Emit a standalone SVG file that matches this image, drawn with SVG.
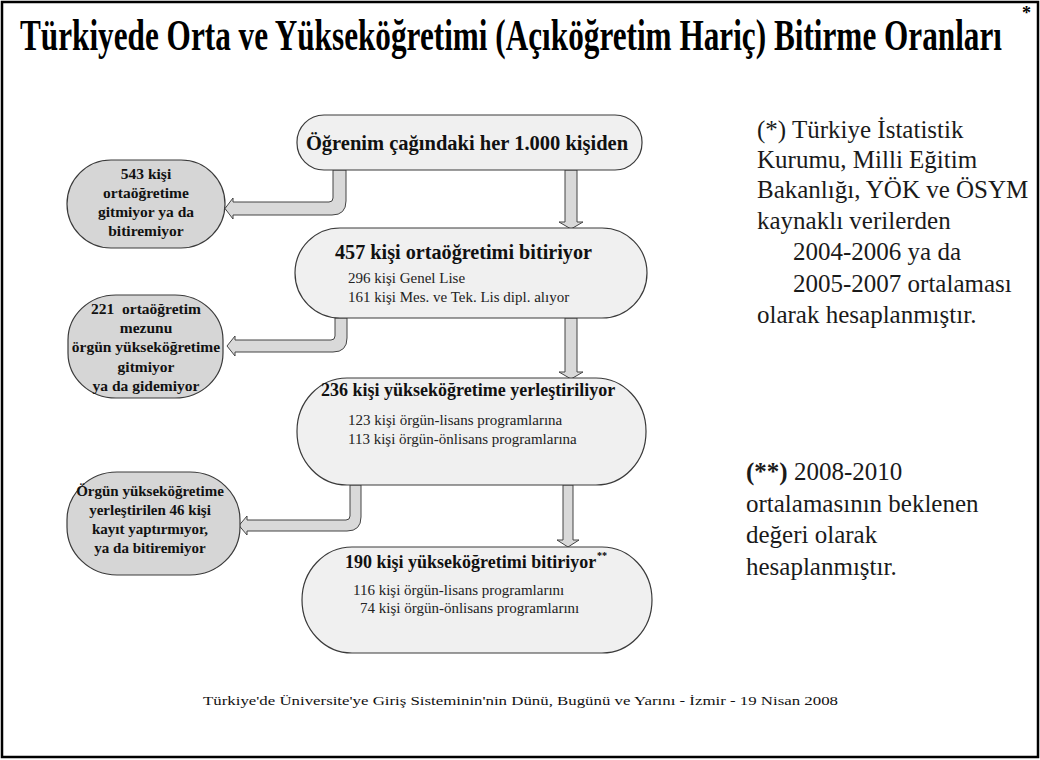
<svg xmlns="http://www.w3.org/2000/svg" width="1040" height="760" viewBox="0 0 1040 760">
  <style>
    .serif { font-family: "Liberation Serif", "Times New Roman", serif; }
    .title { font-family: "Liberation Serif", serif; font-weight: bold; font-size: 44px; fill: #000; }
    .box { fill: #f0f0f0; stroke: #3a3a3a; stroke-width: 1.2; }
    .gbox { fill: #d6d6d6; stroke: #3a3a3a; stroke-width: 1.2; }
    .head { font-family: "Liberation Serif", serif; font-weight: bold; fill: #111; }
    .sub { font-family: "Liberation Serif", serif; font-size: 15px; fill: #222; }
    .gtxt { font-family: "Liberation Serif", serif; font-weight: bold; fill: #111; text-anchor: middle; }
    .g155 { font-size: 15.5px; }
    .g15 { font-size: 15px; }
    .note { font-family: "Liberation Serif", serif; font-size: 25px; fill: #1a1a1a; }
    .arrow { fill: #d9d9d9; stroke: #444; stroke-width: 1; stroke-linejoin: round; }
  </style>

  <rect x="2" y="2" width="1036" height="755" fill="#ffffff" stroke="#000" stroke-width="2.5"/>

  <!-- heading, set in a condensed bold serif -->
  <text class="title" transform="translate(20,50) scale(0.71,1)">Türkiyede Orta ve Yükseköğretimi (Açıköğretim Hariç) Bitirme Oranları</text>
  <text class="serif" x="1022" y="19" font-size="18" font-weight="bold">*</text>

  <!-- connectors -->
  <g id="connectors">
    <path class="arrow" d="M565,170 V222 H559 L571,229 L583,222 H577 V170 Z"/>
    <path class="arrow" d="M565,318 V372 H559 L571,379 L583,372 H577 V318 Z"/>
    <path class="arrow" d="M563,485 V540 H557 L568,547 L579,540 H573 V485 Z"/>
    <path class="arrow" d="M333,170 V198 Q333,202 329,202 H233 V198 L225,208.5 L233,219 V215 H332 Q346,215 346,201 V170 Z"/>
    <path class="arrow" d="M335,318 V336 Q335,340 331,340 H235 V336 L227,346 L235,356 V352 H333 Q347,352 347,338 V318 Z"/>
    <path class="arrow" d="M350,485 V516 Q350,520 346,520 H247 V516 L239,525.5 L247,535 V531 H347 Q361,531 361,517 V485 Z"/>
  </g>

  <g id="start">
    <rect class="box" x="297" y="115" width="345" height="55" rx="27" ry="27"/>
    <text class="head" x="467" y="150" style="font-size:20.5px" text-anchor="middle">Öğrenim çağındaki her 1.000 kişiden</text>
  </g>

  <g id="secondary-grad">
    <rect class="box" x="295" y="228" width="352" height="90" rx="45" ry="45"/>
    <text class="head" x="335" y="259" style="font-size:20.2px">457 kişi ortaöğretimi bitiriyor</text>
    <text class="sub" x="348" y="283">296 kişi Genel Lise</text>
    <text class="sub" x="348" y="302">161 kişi Mes. ve Tek. Lis dipl. alıyor</text>
  </g>

  <g id="placed">
    <rect class="box" x="297" y="378" width="349" height="107" rx="50" ry="53"/>
    <text class="head" x="321" y="396" style="font-size:18px">236 kişi yükseköğretime yerleştiriliyor</text>
    <text class="sub" x="348" y="425">123 kişi örgün-lisans programlarına</text>
    <text class="sub" x="348" y="444">113 kişi örgün-önlisans programlarına</text>
  </g>

  <g id="higher-grad">
    <rect class="box" x="302" y="547" width="350" height="106" rx="50" ry="53"/>
    <text class="head" x="345" y="568" style="font-size:18px">190 kişi yükseköğretimi bitiriyor</text>
    <text class="serif" x="597" y="559" font-size="10" font-weight="bold">**</text>
    <text class="sub" x="353" y="595">116 kişi örgün-lisans programlarını</text>
    <text class="sub" x="360" y="613">74 kişi örgün-önlisans programlarını</text>
  </g>

  <g id="drop-secondary">
    <rect class="gbox" x="67" y="160" width="158" height="88" rx="44" ry="44"/>
    <text class="gtxt g155" x="146" y="179">543 kişi</text>
    <text class="gtxt g155" x="146" y="198">ortaöğretime</text>
    <text class="gtxt g155" x="146" y="217">gitmiyor ya da</text>
    <text class="gtxt g155" x="146" y="236">bitiremiyor</text>
  </g>

  <g id="drop-transition">
    <rect class="gbox" x="68" y="295" width="155" height="103" rx="48" ry="45"/>
    <text class="gtxt g155" x="146" y="314" xml:space="preserve">221  ortaöğretim</text>
    <text class="gtxt g155" x="146" y="333">mezunu</text>
    <text class="gtxt g155" x="146" y="352">örgün yükseköğretime</text>
    <text class="gtxt g155" x="146" y="372">gitmiyor</text>
    <text class="gtxt g155" x="146" y="391">ya da gidemiyor</text>
  </g>

  <g id="drop-higher">
    <rect class="gbox" x="67" y="472" width="173" height="103" rx="50" ry="48"/>
    <text class="gtxt g15" x="150" y="496">Örgün yükseköğretime</text>
    <text class="gtxt g15" x="150" y="515">yerleştirilen 46 kişi</text>
    <text class="gtxt g15" x="150" y="534">kayıt yaptırmıyor,</text>
    <text class="gtxt g15" x="150" y="553">ya da bitiremiyor</text>
  </g>

  <!-- footnotes -->
  <g id="note-sources" class="note">
    <text x="757" y="138">(*) Türkiye İstatistik</text>
    <text x="757" y="168">Kurumu, Milli Eğitim</text>
    <text x="757" y="198">Bakanlığı, YÖK ve ÖSYM</text>
    <text x="757" y="229">kaynaklı verilerden</text>
    <text x="793" y="260">2004-2006 ya da</text>
    <text x="793" y="292">2005-2007 ortalaması</text>
    <text x="757" y="323">olarak hesaplanmıştır.</text>
  </g>

  <g id="note-expected" class="note">
    <text x="746" y="480"><tspan font-weight="bold">(**)</tspan> 2008-2010</text>
    <text x="746" y="512">ortalamasının beklenen</text>
    <text x="746" y="543">değeri olarak</text>
    <text x="746" y="575">hesaplanmıştır.</text>
  </g>

  <text class="serif" x="203" y="705" font-size="13" fill="#111" textLength="635" lengthAdjust="spacingAndGlyphs">Türkiye'de Üniversite'ye Giriş Sisteminin'nin Dünü, Bugünü ve Yarını - İzmir - 19 Nisan 2008</text>
</svg>
